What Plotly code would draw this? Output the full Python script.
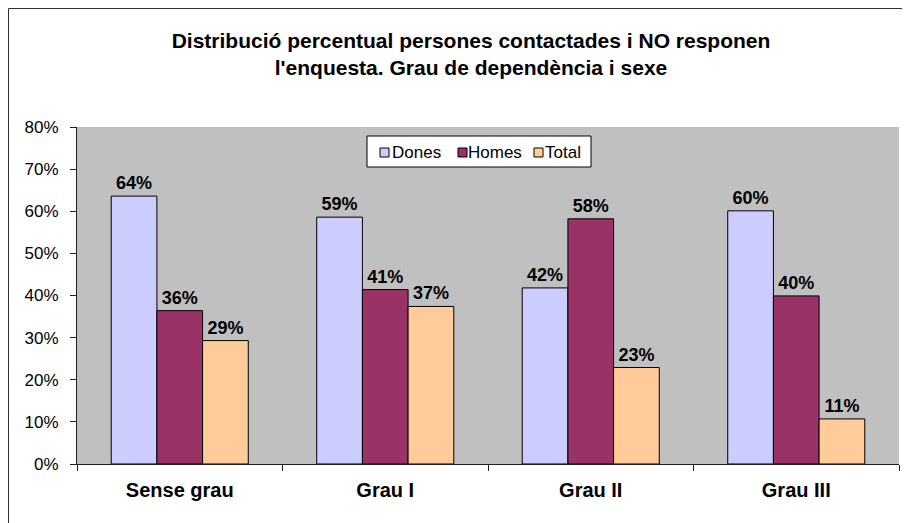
import plotly.graph_objects as go

# chart data
categories = ["Sense grau", "Grau I", "Grau II", "Grau III"]
dones = [0.636, 0.586, 0.418, 0.601]
homes = [0.364, 0.414, 0.582, 0.399]
total = [0.293, 0.374, 0.229, 0.107]

series_names = ["Dones", "Homes", "Total"]
series_vals = [dones, homes, total]
series_cols = ["#CCCCFF", "#993366", "#FFCC99"]

FONT = "Liberation Sans, Arial, sans-serif"

# page has an 8px body margin, so the figure is a bit smaller than the window
W, H = 902, 515
L, R, T, B = 69, 11, 119, 59
PW, PH = W - L - R, H - T - B


def px_x(px):
    return (px - L) / PW


def px_y(py):
    return (H - B - py) / PH


fig = go.Figure()
for name, vals, col in zip(series_names, series_vals, series_cols):
    fig.add_trace(go.Bar(
        name=name, x=categories, y=vals,
        marker=dict(color=col, line=dict(color="black", width=1)),
        texttemplate="%{y:.0%}", textposition="outside",
        constraintext="none", cliponaxis=False,
        textfont=dict(family=FONT, size=18, color="black", weight="bold"),
    ))

fig.update_layout(
    width=W, height=H,
    margin=dict(l=L, r=R, t=T, b=B),
    paper_bgcolor="white", plot_bgcolor="#C0C0C0",
    barmode="group", bargap=0.333, bargroupgap=0,
    font=dict(family=FONT, color="black"),
    title=dict(
        text="Distribució percentual persones contactades i NO responen<br>l'enquesta. Grau de dependència i sexe",
        font=dict(family=FONT, size=21, color="black", weight="bold"),
        xref="container", x=463 / W, xanchor="center",
        yref="container", y=1 - 40 / H, yanchor="top",
    ),
    showlegend=False,
)

fig.update_yaxes(
    range=[0, 0.8], dtick=0.1, tickformat=".0%",
    showgrid=False, zeroline=False,
    showline=True, linecolor="#202020", linewidth=1,
    ticks="outside", ticklen=6, tickcolor="#202020", ticklabelstandoff=8,
    tickfont=dict(family=FONT, size=17, color="black"),
)
fig.update_xaxes(
    showline=True, linecolor="#202020", linewidth=1,
    ticks="outside", ticklen=6, tickcolor="#202020", tickson="boundaries",
    ticklabelstandoff=8,
    tickfont=dict(family=FONT, size=20, color="black", weight="bold"),
)

# outer chart frame, runs off the right and bottom of the picture
fig.add_shape(type="rect", xref="paper", yref="paper",
              x0=px_x(0.5), x1=1.2, y0=-0.5, y1=px_y(0.5),
              line=dict(color="#303030", width=1), layer="below")

# legend box drawn by hand so the entries sit as tight as the original
fig.add_shape(type="rect", xref="paper", yref="paper",
              x0=px_x(359), x1=px_x(583), y0=px_y(159), y1=px_y(128),
              fillcolor="white", line=dict(color="black", width=1))
sym_x = [372, 450, 526]
txt_x = [382, 458, 535]
for name, col, sx, tx in zip(series_names, series_cols, sym_x, txt_x):
    fig.add_shape(type="rect", xref="paper", yref="paper",
                  x0=px_x(sx), x1=px_x(sx + 9), y0=px_y(149), y1=px_y(140),
                  fillcolor=col, line=dict(color="black", width=1))
    fig.add_annotation(text=name, xref="paper", yref="paper",
                       x=px_x(tx), y=px_y(144.5), xanchor="left", yanchor="middle",
                       showarrow=False, font=dict(family=FONT, size=17, color="black"))

fig.write_html("out.html")
